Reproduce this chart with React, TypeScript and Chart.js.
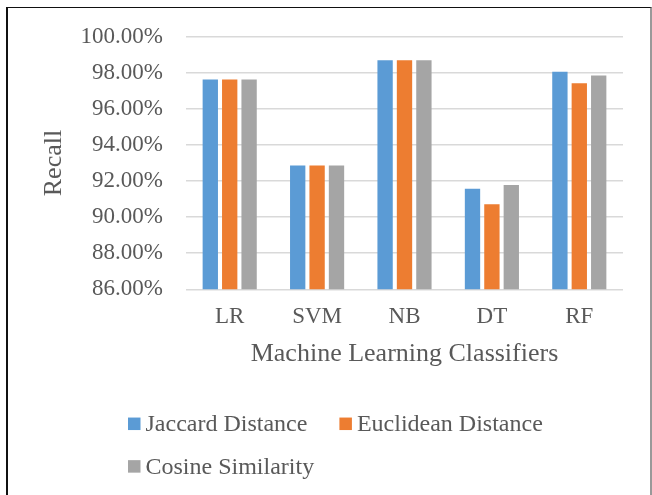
import React, { useEffect, useRef } from "react";
import { Chart, registerables } from "chart.js";

Chart.register(...registerables);

const categories = ["LR", "SVM", "NB", "DT", "RF"];
const seriesNames = ["Jaccard Distance", "Euclidean Distance", "Cosine Similarity"];
const jaccard = [97.63, 92.87, 98.7, 91.57, 98.06];
const euclidean = [97.63, 92.87, 98.7, 90.71, 97.43];
const cosine = [97.63, 92.87, 98.7, 91.78, 97.86];
const seriesColors = ["#5B9BD5", "#ED7D31", "#A5A5A5"];
const yMin = 86;
const yMax = 100;
const yStep = 2;
const xTitle = "Machine Learning Classifiers";
const yTitle = "Recall";

const FONT = "'Liberation Serif', 'Times New Roman', serif";
const TEXT = "#595959";

const legendPlugin = {
  id: "wrapLegend",
  afterDraw(chart: any) {
    const ctx = chart.ctx;
    ctx.save();
    ctx.font = `24px ${FONT}`;
    ctx.textBaseline = "middle";
    ctx.textAlign = "left";
    const startX = 128;
    const rightLimit = 560;
    const rowGap = 42.6;
    const box = 12.5;
    let x = startX;
    let y = 423.8;
    chart.data.datasets.forEach((ds: any, i: number) => {
      const w = box + 5 + ctx.measureText(ds.label).width;
      if (i > 0 && x + w > rightLimit) {
        x = startX;
        y += rowGap;
      }
      ctx.fillStyle = ds.backgroundColor;
      ctx.fillRect(x, y - box / 2, box, box);
      ctx.fillStyle = TEXT;
      ctx.fillText(ds.label, x + box + 5, y + 1);
      x += w + 32;
    });
    ctx.restore();
  },
};

export default function App() {
  const ref = useRef<HTMLCanvasElement>(null);
  useEffect(() => {
    if (!ref.current) return;
    const values = [jaccard, euclidean, cosine];
    const chart = new Chart(ref.current, {
      type: "bar",
      data: {
        labels: categories,
        datasets: seriesNames.map((name, i) => ({
          label: name,
          data: values[i],
          backgroundColor: seriesColors[i],
          borderWidth: 0,
          categoryPercentage: 0.666,
          barPercentage: 0.79,
        })),
      },
      options: {
        animation: false,
        responsive: false,
        layout: { padding: { left: 0, right: 29, top: 36.6, bottom: 125 } },
        plugins: {
          legend: { display: false },
          tooltip: { enabled: false },
        },
        scales: {
          x: {
            grid: { display: false, drawTicks: false },
            border: { display: false },
            ticks: { color: TEXT, font: { family: FONT, size: 23 }, padding: 14 },
            title: {
              display: true,
              text: xTitle,
              color: TEXT,
              font: { family: FONT, size: 26 },
              padding: { top: 0, bottom: 0 },
            },
            afterFit: (scale: any) => {
              scale.height = 80.7;
            },
          },
          y: {
            min: yMin,
            max: yMax,
            grid: { color: "#D9D9D9", lineWidth: 1.5, drawTicks: false },
            border: { display: false },
            ticks: {
              stepSize: yStep,
              color: TEXT,
              font: { family: FONT, size: 23 },
              padding: 23,
              callback: (v: any) => Number(v).toFixed(2) + "%",
            },
            title: {
              display: true,
              text: yTitle,
              color: TEXT,
              font: { family: FONT, size: 26 },
              padding: { top: 38.9, bottom: 0 },
            },
            afterFit: (scale: any) => {
              scale.width = 186;
            },
          },
        },
      },
      plugins: [legendPlugin],
    });
    return () => chart.destroy();
  }, []);

  return (
    <div style={{ position: "fixed", left: 0, top: 0, width: 652, height: 495, background: "#fff", overflow: "hidden" }}>
      <canvas ref={ref} width={652} height={495} style={{ position: "absolute", left: 0, top: 0 }} />
      <div
        style={{
          position: "absolute",
          left: 6,
          top: 7,
          width: 642,
          height: 600,
          borderLeft: "2px solid #111",
          borderTop: "1px solid #111",
          borderRight: "2px solid #999",
          pointerEvents: "none",
        }}
      />
    </div>
  );
}
